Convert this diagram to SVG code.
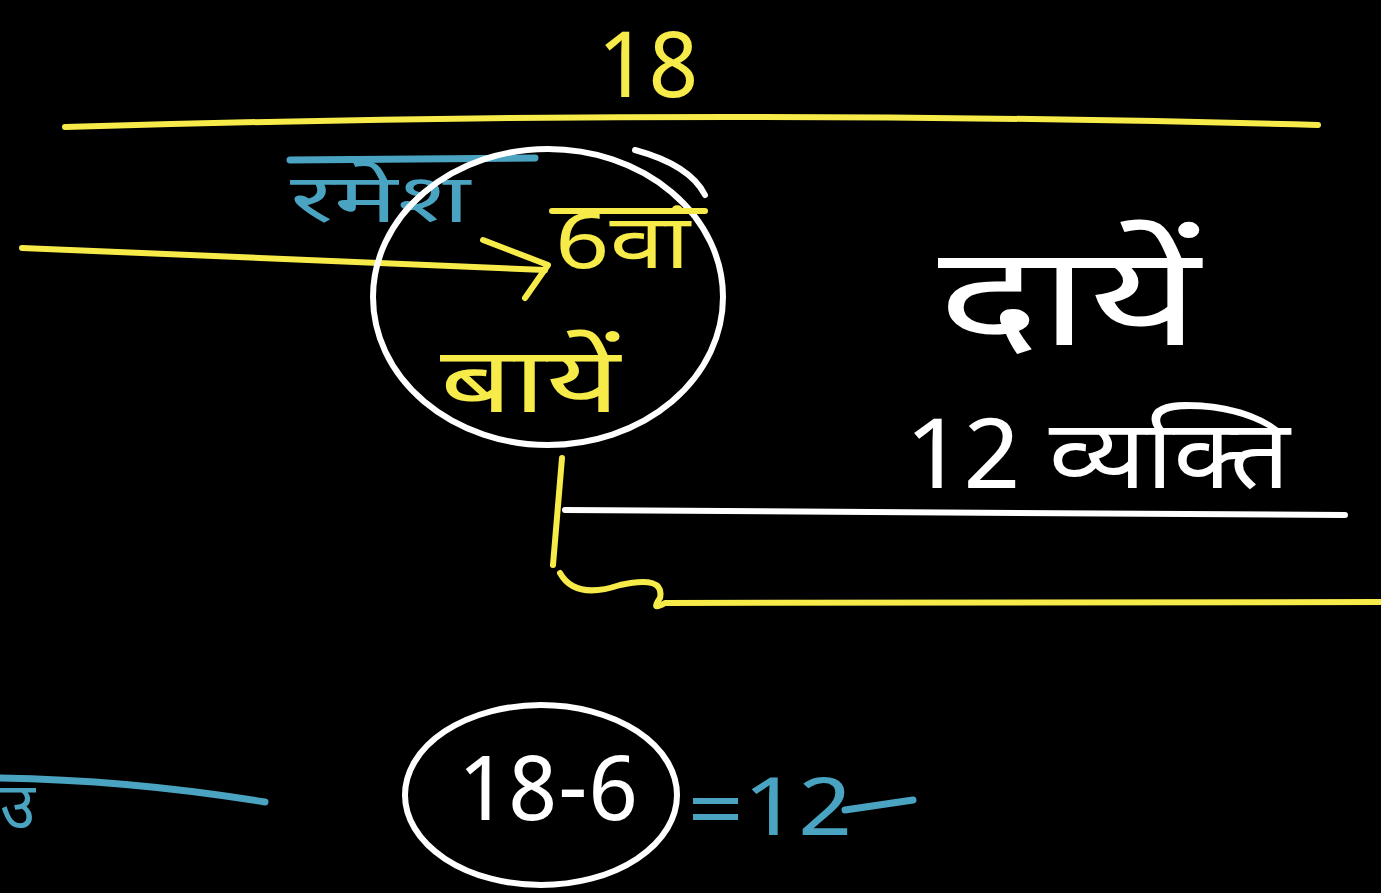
<svg xmlns="http://www.w3.org/2000/svg" width="1381" height="893" viewBox="0 0 1381 893">
<style>
.y{stroke:#f7eb4a;fill:none;stroke-width:6;stroke-linecap:round;stroke-linejoin:round}
.w{stroke:#ffffff;fill:none;stroke-width:6;stroke-linecap:round;stroke-linejoin:round}
.b{stroke:#4aa3c0;fill:none;stroke-width:7;stroke-linecap:round}
.t{font-family:"Noto Sans Devanagari","Noto Sans","Liberation Sans",sans-serif}
.ty{fill:#f7eb4a}.tw{fill:#ffffff}.tb{fill:#4aa3c0}
</style>
<rect width="1381" height="893" fill="#000000"/>
<g id="top-count">
<text class="t ty" x="648" y="97" font-size="92" text-anchor="middle">18</text>
<path class="y" d="M65,127 Q700,108 1318,125"/>
</g>
<g id="ramesh-line">
<path class="y" d="M22,248 L545,270"/>
<path class="y" d="M483,240 L548,265 L525,298"/>
<path class="b" d="M290,160 L535,158"/>
<text class="t tb" x="290" y="222" font-size="68" textLength="180" lengthAdjust="spacingAndGlyphs">रमेश</text>
</g>
<g id="position-circle">
<ellipse class="w" cx="548" cy="297" rx="175" ry="148"/>
<path class="w" d="M635,150 Q690,165 705,195" stroke-width="3"/>
<path class="y" d="M552,211 L705,211"/>
<text class="t ty" x="555" y="268" font-size="76" textLength="135" lengthAdjust="spacingAndGlyphs">6वां</text>
<text class="t ty" x="440" y="412" font-size="92" textLength="180" lengthAdjust="spacingAndGlyphs">बायें</text>
</g>
<g id="right-side">
<text class="t tw" x="938" y="345" font-size="140" textLength="262" lengthAdjust="spacingAndGlyphs">दायें</text>
<text class="t tw" x="905" y="488" font-size="96" textLength="385" lengthAdjust="spacingAndGlyphs">12 व्यक्ति</text>
</g>
<g id="lines">
<path class="y" d="M562,458 L553,565"/>
<path class="y" d="M560,573 Q575,600 620,585 Q665,575 660,598 Q650,612 665,603 L1381,602"/>
<path class="w" d="M565,510 L1345,515"/>
</g>
<g id="calc">
<path class="b" d="M0,778 Q130,780 265,802"/>
<text class="t tb" x="0" y="828" font-size="64">उ</text>
<ellipse class="w" cx="541" cy="795" rx="136" ry="90"/>
<text class="t tw" x="548" y="820" font-size="90" text-anchor="middle" textLength="180" lengthAdjust="spacingAndGlyphs">18-6</text>
<text class="t tb" x="688" y="835" font-size="80" textLength="165" lengthAdjust="spacingAndGlyphs">=12</text>
<path class="b" d="M845,810 L913,800"/>
</g>
</svg>
